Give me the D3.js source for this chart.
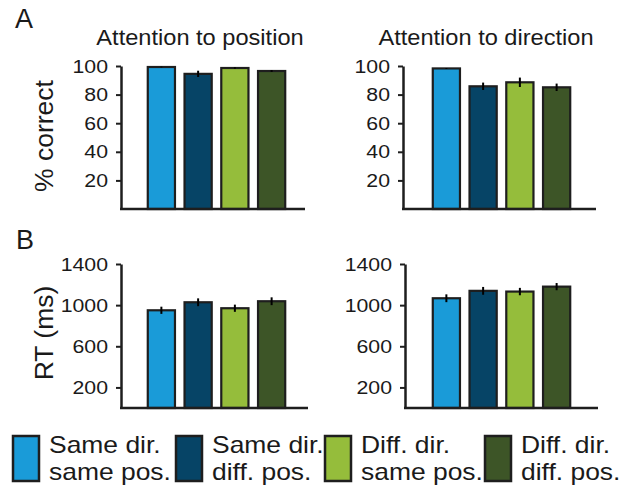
<!DOCTYPE html>
<html>
<head>
<meta charset="utf-8">
<script src="https://cdn.jsdelivr.net/npm/d3@7"></script>
<style>
  html, body { margin: 0; padding: 0; background: #fff; }
  text { font-family: "Liberation Sans", Arial, sans-serif; fill: #1a1a1a; }
</style>
</head>
<body>
<svg id="fig" width="630" height="487"></svg>
<script>
// Conditions (shared by all four panels and the legend)
const conditions = ["Same dir. same pos.", "Same dir. diff. pos.", "Diff. dir. same pos.", "Diff. dir. diff. pos."];
const legendLines = [["Same dir.", "same pos."], ["Same dir.", "diff. pos."], ["Diff. dir.", "same pos."], ["Diff. dir.", "diff. pos."]];
const colors = ["#1a9bd8", "#064466", "#95bd3b", "#3d5527"];

// Panel titles
const titles = ["Attention to position", "Attention to direction"];

// Accuracy (% correct) with standard errors
const accPosition = [99.3, 94.5, 98.6, 96.5];
const accPositionErr = [0.3, 2.2, 0.5, 0.6];
const accDirection = [98.3, 85.8, 88.6, 85.1];
const accDirectionErr = [0.3, 2.6, 3.3, 2.6];

// Reaction times (ms) with standard errors
const rtPosition = [950, 1028, 970, 1038];
const rtPositionErr = [35, 38, 35, 38];
const rtDirection = [1067, 1139, 1132, 1180];
const rtDirectionErr = [38, 38, 36, 35];

// Tick values
const accTicks = [20, 40, 60, 80, 100];
const rtTicks = [200, 600, 1000, 1400];

const svg = d3.select("#fig");
const ink = "#1e1e1e";
// the figure's lettering is set slightly wide
const tickStretch = 1.12;

function panel(opts) {
  const g = svg.append("g");
  const y = d3.scaleLinear().domain(opts.domain).range([opts.bottom, opts.top]);
  const x = d3.scaleBand().domain(conditions)
    .range([opts.barStart, opts.barEnd]).paddingInner(0.26).paddingOuter(0.13);

  // bars
  g.selectAll("rect.bar").data(opts.values).join("rect")
    .attr("class", "bar")
    .attr("x", (d, i) => x(conditions[i]))
    .attr("width", x.bandwidth())
    .attr("y", d => y(d))
    .attr("height", d => y(opts.domain[0]) - y(d))
    .attr("fill", (d, i) => colors[i])
    .attr("stroke", ink)
    .attr("stroke-width", 2.2);

  // error bars
  g.selectAll("line.err").data(opts.values).join("line")
    .attr("class", "err")
    .attr("x1", (d, i) => x(conditions[i]) + x.bandwidth() / 2)
    .attr("x2", (d, i) => x(conditions[i]) + x.bandwidth() / 2)
    .attr("y1", (d, i) => y(d + opts.errors[i]))
    .attr("y2", (d, i) => y(d - opts.errors[i]))
    .attr("stroke", "#000")
    .attr("stroke-width", 2);

  // y axis
  const yAxis = d3.axisLeft(y).tickValues(opts.ticks).tickFormat(d3.format("d"))
    .tickSize(5).tickPadding(7).tickSizeOuter(0);
  const ga = g.append("g").attr("transform", `translate(${opts.axisX},0)`).call(yAxis);
  ga.attr("font-size", null).attr("font-family", null);
  ga.select(".domain").attr("stroke", ink).attr("stroke-width", 2.5);
  ga.selectAll(".tick line").attr("stroke", ink).attr("stroke-width", 2);
  ga.selectAll(".tick text")
    .attr("fill", "#1a1a1a")
    .attr("x", -13 / tickStretch)
    .attr("transform", `scale(${tickStretch},1)`)
    .style("font-size", "19px")
    .style("font-family", "'Liberation Sans', Arial, sans-serif");

  // baseline
  g.append("line")
    .attr("x1", opts.axisX - 1).attr("x2", opts.axisEnd)
    .attr("y1", y(opts.domain[0])).attr("y2", y(opts.domain[0]))
    .attr("stroke", ink).attr("stroke-width", 2.5);
}

// Row A: accuracy
panel({ domain: [0, 100], top: 66, bottom: 209, axisX: 121, axisEnd: 305,
        barStart: 143, barEnd: 290, values: accPosition, errors: accPositionErr, ticks: accTicks });
panel({ domain: [0, 100], top: 66, bottom: 209, axisX: 403, axisEnd: 596,
        barStart: 428, barEnd: 575, values: accDirection, errors: accDirectionErr, ticks: accTicks });

// Row B: reaction time
panel({ domain: [0, 1400], top: 264, bottom: 408, axisX: 121, axisEnd: 308,
        barStart: 143, barEnd: 290, values: rtPosition, errors: rtPositionErr, ticks: rtTicks });
panel({ domain: [0, 1400], top: 264, bottom: 408, axisX: 405, axisEnd: 598,
        barStart: 428, barEnd: 575, values: rtDirection, errors: rtDirectionErr, ticks: rtTicks });

// Column titles
svg.append("text").attr("transform", "translate(200,45) scale(1.05,1)").attr("text-anchor", "middle")
  .attr("font-size", 22.5).text(titles[0]);
svg.append("text").attr("transform", "translate(486,45) scale(1.05,1)").attr("text-anchor", "middle")
  .attr("font-size", 22.5).text(titles[1]);

// Row letters
svg.append("text").attr("x", 15).attr("y", 28).attr("font-size", 27).text("A");
svg.append("text").attr("x", 16).attr("y", 249).attr("font-size", 27).text("B");

// Y axis titles
svg.append("text").attr("transform", "translate(53,136) rotate(-90)")
  .attr("text-anchor", "middle").attr("font-size", 26.5).text("% correct");
svg.append("text").attr("transform", "translate(53,333) rotate(-90)")
  .attr("text-anchor", "middle").attr("font-size", 26.5).text("RT (ms)");

// Legend: one two-line label per condition
const legendX = [13, 176, 325, 485];
const lg = svg.append("g");
legendLines.forEach((lines, i) => {
  lg.append("rect")
    .attr("x", legendX[i]).attr("y", 436).attr("width", 26).attr("height", 45)
    .attr("fill", colors[i]).attr("stroke", ink).attr("stroke-width", 2.5);
  const t = lg.append("text")
    .attr("transform", `translate(${legendX[i] + 36},453) scale(1.15,1)`)
    .attr("font-size", 23);
  lines.forEach((line, j) => {
    t.append("tspan").attr("x", 0).attr("dy", j === 0 ? 0 : 27).text(line);
  });
});
</script>
</body>
</html>
